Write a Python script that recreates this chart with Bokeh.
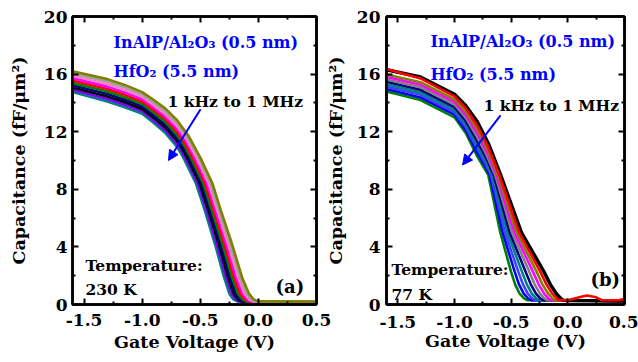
from bokeh.plotting import figure
from bokeh.layouts import row
from bokeh.models import (Range1d, LinearAxis, FixedTicker, Label, Arrow, NormalHead,
                          CustomLabelingPolicy)
from bokeh.embed import file_html
from bokeh.resources import INLINE

FONT = "DejaVu Serif"
BLUE = "#0000FF"

# ---------------- ticks ----------------
x_ticks = [-1.5, -1.0, -0.5, 0.0, 0.5]
x_tick_labels = ["-1.5", "-1.0", "-0.5", "0.0", "0.5"]
x_minor = [-1.25, -0.75, -0.25, 0.25]
y_ticks = [0, 4, 8, 12, 16, 20]
y_tick_labels = ["0", "4", "8", "12", "16", "20"]
y_minor = [2, 6, 10, 14, 18]

# ---------------- panel (a): 230 K, 1 kHz (a_v0/a_c0) ... 1 MHz (a_v9/a_c9) ----------------
a_v0 = [-1.6, -1.3, -1.15, -1.0, -0.9, -0.8, -0.7, -0.6, -0.5, -0.395, -0.322, -0.227, -0.141, -0.081, -0.04, 0.0, 0.5]
a_c0 = [16.2, 15.65, 15.25, 14.75, 14.2, 13.6, 12.8, 11.7, 10.2, 8.4, 6.5, 4.2, 1.9, 0.75, 0.35, 0.22, 0.2]
a_v1 = [-1.6, -1.3, -1.15, -1.0, -0.9, -0.8, -0.7, -0.608, -0.516, -0.411, -0.337, -0.243, -0.158, -0.1, -0.059, -0.019, 0.5]
a_c1 = [16.04, 15.48, 15.08, 14.58, 14.02, 13.41, 12.6, 11.58, 10.2, 8.4, 6.5, 4.2, 1.9, 0.75, 0.35, 0.21, 0.2]
a_v2 = [-1.6, -1.3, -1.15, -1.0, -0.9, -0.8, -0.7, -0.616, -0.532, -0.427, -0.353, -0.26, -0.175, -0.119, -0.079, -0.038, 0.5]
a_c2 = [15.88, 15.31, 14.91, 14.42, 13.84, 13.22, 12.39, 11.45, 10.2, 8.4, 6.5, 4.2, 1.9, 0.75, 0.35, 0.21, 0.19]
a_v3 = [-1.6, -1.3, -1.15, -1.0, -0.9, -0.8, -0.7, -0.624, -0.549, -0.442, -0.368, -0.276, -0.193, -0.137, -0.098, -0.057, 0.5]
a_c3 = [15.72, 15.13, 14.73, 14.25, 13.67, 13.03, 12.18, 11.33, 10.2, 8.4, 6.5, 4.2, 1.9, 0.75, 0.35, 0.2, 0.19]
a_v4 = [-1.6, -1.3, -1.15, -1.0, -0.9, -0.8, -0.7, -0.632, -0.565, -0.458, -0.383, -0.292, -0.21, -0.156, -0.118, -0.076, 0.5]
a_c4 = [15.56, 14.96, 14.56, 14.08, 13.49, 12.85, 11.98, 11.2, 10.2, 8.4, 6.5, 4.2, 1.9, 0.75, 0.35, 0.2, 0.18]
a_v5 = [-1.6, -1.3, -1.15, -1.0, -0.9, -0.8, -0.7, -0.641, -0.581, -0.474, -0.399, -0.309, -0.227, -0.175, -0.137, -0.095, 0.5]
a_c5 = [15.39, 14.79, 14.39, 13.92, 13.31, 12.66, 11.77, 11.08, 10.2, 8.4, 6.5, 4.2, 1.9, 0.75, 0.35, 0.19, 0.18]
a_v6 = [-1.6, -1.3, -1.15, -1.0, -0.9, -0.8, -0.7, -0.649, -0.597, -0.49, -0.414, -0.325, -0.244, -0.194, -0.157, -0.113, 0.5]
a_c6 = [15.23, 14.62, 14.22, 13.75, 13.13, 12.47, 11.57, 10.95, 10.2, 8.4, 6.5, 4.2, 1.9, 0.75, 0.35, 0.19, 0.17]
a_v7 = [-1.6, -1.3, -1.15, -1.0, -0.9, -0.8, -0.7, -0.657, -0.614, -0.506, -0.429, -0.341, -0.262, -0.213, -0.176, -0.132, 0.5]
a_c7 = [15.07, 14.44, 14.04, 13.58, 12.96, 12.28, 11.36, 10.83, 10.2, 8.4, 6.5, 4.2, 1.9, 0.75, 0.35, 0.18, 0.17]
a_v8 = [-1.6, -1.3, -1.15, -1.0, -0.9, -0.8, -0.7, -0.665, -0.63, -0.521, -0.445, -0.358, -0.279, -0.231, -0.196, -0.151, 0.5]
a_c8 = [14.91, 14.27, 13.87, 13.42, 12.78, 12.09, 11.16, 10.7, 10.2, 8.4, 6.5, 4.2, 1.9, 0.75, 0.35, 0.18, 0.16]
a_v9 = [-1.6, -1.3, -1.15, -1.0, -0.9, -0.8, -0.7, -0.673, -0.646, -0.537, -0.46, -0.374, -0.296, -0.25, -0.215, -0.17, 0.5]
a_c9 = [14.75, 14.1, 13.7, 13.25, 12.6, 11.9, 10.95, 10.58, 10.2, 8.4, 6.5, 4.2, 1.9, 0.75, 0.35, 0.17, 0.16]
a_colors = ["#808000", "#A0A0A0", "#FF80C0", "#FF00FF", "#FF0000",
            "#008000", "#000080", "#000000", "#8000FF", "#008080"]

# ---------------- panel (b): 77 K ----------------
b_v0 = [-1.6, -1.3, -1.0, -0.9, -0.8, -0.697, -0.593, -0.409, -0.213, -0.155, -0.101, -0.063, -0.043, 0.0, 0.5]
b_c0 = [16.3, 15.8, 14.6, 13.8, 12.7, 11.1, 9.0, 5.0, 2.3, 1.4, 0.75, 0.42, 0.3, 0.28, 0.25]
b_v1 = [-1.6, -1.3, -1.0, -0.9, -0.8, -0.703, -0.605, -0.43, -0.245, -0.189, -0.137, -0.099, -0.078,
        0.0, 0.1, 0.17, 0.25, 0.3, 0.45, 0.5]
b_c1 = [16.35, 15.7, 14.45, 13.62, 12.43, 10.94, 9.0, 5.0, 2.3, 1.4, 0.75, 0.42, 0.3,
        0.3, 0.5, 0.62, 0.5, 0.3, 0.3, 0.4]
b_v2 = [-1.6, -1.3, -1.0, -0.9, -0.8, -0.709, -0.617, -0.451, -0.277, -0.224, -0.173, -0.135, -0.113, 0.0, 0.5]
b_c2 = [15.97, 15.44, 14.24, 13.38, 12.17, 10.78, 9.0, 5.0, 2.3, 1.4, 0.75, 0.42, 0.3, 0.28, 0.25]
b_v3 = [-1.6, -1.3, -1.0, -0.9, -0.8, -0.715, -0.629, -0.471, -0.309, -0.258, -0.209, -0.171, -0.148, 0.0, 0.5]
b_c3 = [15.8, 15.27, 14.07, 13.17, 11.9, 10.62, 9.0, 5.0, 2.3, 1.4, 0.75, 0.42, 0.3, 0.28, 0.25]
b_v4 = [-1.6, -1.3, -1.0, -0.9, -0.8, -0.721, -0.641, -0.492, -0.341, -0.293, -0.245, -0.207, -0.182, 0.0, 0.5]
b_c4 = [15.63, 15.09, 13.89, 12.96, 11.63, 10.46, 9.0, 5.0, 2.3, 1.4, 0.75, 0.42, 0.3, 0.28, 0.25]
b_v5 = [-1.6, -1.3, -1.0, -0.9, -0.8, -0.727, -0.654, -0.513, -0.374, -0.327, -0.281, -0.243, -0.218, 0.0, 0.5]
b_c5 = [15.47, 14.91, 13.71, 12.74, 11.37, 10.29, 9.0, 5.0, 2.3, 1.4, 0.75, 0.42, 0.3, 0.28, 0.25]
b_v6 = [-1.6, -1.3, -1.0, -0.9, -0.8, -0.733, -0.666, -0.534, -0.406, -0.362, -0.317, -0.279, -0.252, 0.0, 0.5]
b_c6 = [15.3, 14.73, 13.53, 12.53, 11.1, 10.13, 9.0, 5.0, 2.3, 1.4, 0.75, 0.42, 0.3, 0.28, 0.25]
b_v7 = [-1.6, -1.3, -1.0, -0.9, -0.8, -0.739, -0.678, -0.555, -0.438, -0.396, -0.353, -0.315, -0.287, 0.0, 0.5]
b_c7 = [15.13, 14.56, 13.36, 12.32, 10.83, 9.97, 9.0, 5.0, 2.3, 1.4, 0.75, 0.42, 0.3, 0.28, 0.25]
b_v8 = [-1.6, -1.3, -1.0, -0.9, -0.8, -0.745, -0.69, -0.575, -0.47, -0.431, -0.389, -0.351, -0.322, 0.0, 0.5]
b_c8 = [14.97, 14.38, 13.18, 12.11, 10.57, 9.81, 9.0, 5.0, 2.3, 1.4, 0.75, 0.42, 0.3, 0.28, 0.25]
b_v9 = [-1.6, -1.3, -1.0, -0.9, -0.8, -0.751, -0.702, -0.596, -0.502, -0.465, -0.425, -0.387, -0.357, 0.0, 0.5]
b_c9 = [14.8, 14.2, 13.0, 11.9, 10.3, 9.65, 9.0, 5.0, 2.3, 1.4, 0.75, 0.42, 0.3, 0.28, 0.25]
b_colors = ["#000000", "#FF0000", "#808000", "#FF00FF", "#808080",
            "#000080", "#008080", "#4040FF", "#0000FF", "#008000"]

HIDE = CustomLabelingPolicy(code="for (const i of indices) { indices.unset(i) }\nreturn indices")


def style_axis(ax, ticks, minor, labels, show):
    ax.ticker = FixedTicker(ticks=ticks, minor_ticks=minor)
    ax.major_label_overrides = {t: l for t, l in zip(ticks, labels)}
    ax.axis_line_width = 2.5
    ax.axis_line_color = "black"
    ax.major_tick_in = 6
    ax.major_tick_out = 0
    ax.minor_tick_in = 3
    ax.minor_tick_out = 0
    ax.major_tick_line_width = 2
    ax.minor_tick_line_width = 2
    ax.major_label_text_font = FONT
    ax.major_label_text_font_style = "bold"
    ax.major_label_text_color = "black"
    if show:
        ax.major_label_text_font_size = "17px"
    else:
        ax.major_label_text_font_size = "1px"
        ax.major_label_standoff = 0
        ax.major_label_policy = HIDE


def make_panel(width, bl, br, bt, bb, xstand, xlab_stand, ystand, ylab_stand):
    p = figure(width=width, height=362, x_range=Range1d(-1.6, 0.5), y_range=Range1d(0, 20),
               output_backend="svg", toolbar_location=None,
               min_border_left=bl, min_border_right=br, min_border_top=bt, min_border_bottom=bb)
    p.grid.visible = False
    p.outline_line_color = "black"
    p.outline_line_width = 2.5
    p.outline_line_alpha = 1
    p.background_fill_color = "white"
    xa, ya = p.xaxis[0], p.yaxis[0]
    style_axis(xa, x_ticks, x_minor, x_tick_labels, True)
    style_axis(ya, y_ticks, y_minor, y_tick_labels, True)
    xa.major_label_standoff = xstand
    ya.major_label_standoff = ystand
    for ax, lab, stand in ((ya, "Capacitance (fF/\u03bcm\u00b2)", ylab_stand),
                           (xa, "Gate Voltage (V)", xlab_stand)):
        ax.axis_label = lab
        ax.axis_label_text_font = FONT
        ax.axis_label_text_font_style = "bold"
        ax.axis_label_text_font_size = "17.5px"
        ax.axis_label_text_color = "black"
        ax.axis_label_standoff = stand
    top = LinearAxis()
    right = LinearAxis()
    style_axis(top, x_ticks, x_minor, x_tick_labels, False)
    style_axis(right, y_ticks, y_minor, y_tick_labels, False)
    p.add_layout(top, "above")
    p.add_layout(right, "right")
    return p


def txt(p, x, y, s, color="black", size="15.5px"):
    p.add_layout(Label(x=x, y=y, text=s, text_font=FONT, text_font_style="bold",
                       text_font_size=size, text_color=color, text_baseline="alphabetic"))


# ---------------- figure (a) ----------------
pa = make_panel(340, 72, 24, 16, 54, 9, 3, 5, 12)
a_vs = [a_v0, a_v1, a_v2, a_v3, a_v4, a_v5, a_v6, a_v7, a_v8, a_v9]
a_cs = [a_c0, a_c1, a_c2, a_c3, a_c4, a_c5, a_c6, a_c7, a_c8, a_c9]
for k in range(len(a_cs) - 1, -1, -1):
    pa.line(a_vs[k], a_cs[k], line_color=a_colors[k], line_width=2.6)
txt(pa, -1.247, 18.22, "InAlP/Al\u2082O\u2083 (0.5 nm)", BLUE, "16px")
txt(pa, -1.247, 16.16, "HfO\u2082 (5.5 nm)", BLUE, "16px")
txt(pa, -0.782, 14.11, "1 kHz to 1 MHz", "black", "15.5px")
txt(pa, -1.488, 2.74, "Temperature:", "black", "15.5px")
txt(pa, -1.488, 1.03, "230 K", "black", "15.5px")
txt(pa, 0.147, 1.23, "(a)", "black", "18px")
pa.add_layout(Arrow(end=NormalHead(size=10, fill_color=BLUE, line_color=BLUE),
                    x_start=-0.498, y_start=13.56, x_end=-0.774, y_end=10.0,
                    line_color=BLUE, line_width=2))

# ---------------- figure (b) ----------------
pb = make_panel(320, 68, 14, 13, 58, 11, 0, 6, 8)
pb.border_fill_color = None
pb.margin = (0, 0, 0, -22)
b_vs = [b_v0, b_v1, b_v2, b_v3, b_v4, b_v5, b_v6, b_v7, b_v8, b_v9]
b_cs = [b_c0, b_c1, b_c2, b_c3, b_c4, b_c5, b_c6, b_c7, b_c8, b_c9]
for k in range(len(b_cs) - 1, 1, -1):
    pb.line(b_vs[k], b_cs[k], line_color=b_colors[k], line_width=2.6)
pb.line(b_v0, b_c0, line_color=b_colors[0], line_width=3.5)
pb.line(b_v1, b_c1, line_color=b_colors[1], line_width=2.6)
txt(pb, -1.212, 18.28, "InAlP/Al\u2082O\u2083 (0.5 nm)", BLUE, "16px")
txt(pb, -1.212, 15.95, "HfO\u2082 (5.5 nm)", BLUE, "16px")
txt(pb, -0.744, 13.81, "1 kHz to 1 MHz", "black", "15.5px")
txt(pb, -1.556, 2.41, "Temperature:", "black", "15.5px")
txt(pb, -1.556, 0.69, "77 K", "black", "15.5px")
txt(pb, 0.2, 1.72, "(b)", "black", "18px")
pb.add_layout(Arrow(end=NormalHead(size=10, fill_color=BLUE, line_color=BLUE),
                    x_start=-0.594, y_start=13.13, x_end=-0.929, y_end=9.69,
                    line_color=BLUE, line_width=2))

layout = row(pa, pb)
open("out.html", "w").write(file_html(layout, INLINE))
